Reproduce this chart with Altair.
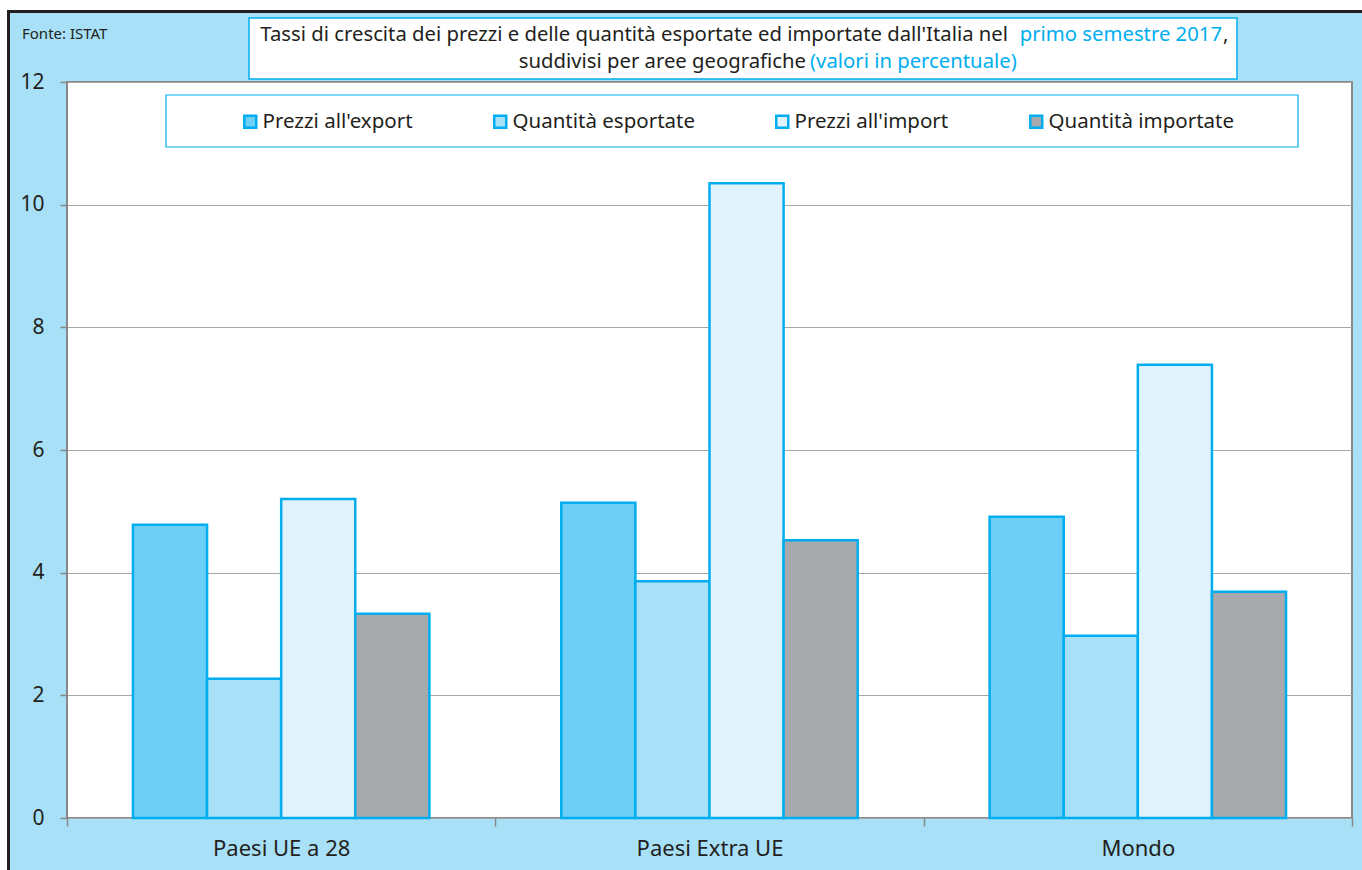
import altair as alt
import pandas as pd

categories = ["Paesi UE a 28", "Paesi Extra UE", "Mondo"]
series = ["Prezzi all'export", "Quantità esportate", "Prezzi all'import", "Quantità importate"]
prezzi_export = [4.78, 5.14, 4.91]
quantita_esportate = [2.27, 3.86, 2.97]
prezzi_import = [5.20, 10.35, 7.39]
quantita_importate = [3.33, 4.53, 3.69]
colors = ["#6dcff6", "#a8e0f8", "#e0f3fc", "#a7a9ac"]
y_ticks = [0, 2, 4, 6, 8, 10, 12]

CYAN = "#00aeef"
BG = "#a8e0f8"
TXT = "#231f20"
FONT = "Noto Sans"
TFS = 20.3

rows = []
for s, vals in zip(series, [prezzi_export, quantita_esportate, prezzi_import, quantita_importate]):
    for c, v in zip(categories, vals):
        rows.append({"area": c, "serie": s, "valore": v})
df = pd.DataFrame(rows)

W, H = 1285, 736
OX, OY = 67, 82  # plot origin in page pixels


def px(x):
    return alt.value(x - OX)


def py(y):
    return alt.value(y - OY)


one = alt.Data(values=[{"k": 1}])

# page frame: white strips + black border (outside plot)
white_top = alt.Chart(one).mark_rect(fill="white").encode(
    x=px(0), x2=px(1362), y=py(0), y2=py(10))
white_left = alt.Chart(one).mark_rect(fill="white").encode(
    x=px(0), x2=px(7), y=py(0), y2=py(870))
black_top = alt.Chart(one).mark_rect(fill="#231f20").encode(
    x=px(7), x2=px(1362), y=py(10), y2=py(13))
black_left = alt.Chart(one).mark_rect(fill="#231f20").encode(
    x=px(7), x2=px(10), y=py(10), y2=py(870))

# title box
title_box = alt.Chart(one).mark_rect(fill="white", stroke=CYAN, strokeWidth=1.5).encode(
    x=px(249), x2=px(1237), y=py(18), y2=py(79))
t1a = alt.Chart(one).mark_text(text="Tassi di crescita dei prezzi e delle quantità esportate ed importate dall'Italia nel",
                               align="right", baseline="middle", font=FONT, fontSize=TFS, color=TXT).encode(
    x=px(1008), y=py(35))
t1b = alt.Chart(one).mark_text(text="primo semestre 2017", align="right", baseline="middle",
                               font=FONT, fontSize=TFS, color=CYAN).encode(x=px(1222), y=py(35))
t1c = alt.Chart(one).mark_text(text=",", align="left", baseline="middle",
                               font=FONT, fontSize=TFS, color=TXT).encode(x=px(1223), y=py(35))
t2a = alt.Chart(one).mark_text(text="suddivisi per aree geografiche", align="right", baseline="middle",
                               font=FONT, fontSize=TFS, color=TXT).encode(x=px(806), y=py(62))
t2b = alt.Chart(one).mark_text(text="(valori in percentuale)", align="left", baseline="middle",
                               font=FONT, fontSize=TFS, color=CYAN).encode(x=px(810), y=py(62))
fonte = alt.Chart(one).mark_text(text="Fonte: ISTAT", align="left", baseline="middle",
                                 font=FONT, fontSize=15, color=TXT).encode(x=px(22), y=py(34))

# legend box
legend_box = alt.Chart(one).mark_rect(fill="white", stroke=CYAN, strokeWidth=1.2).encode(
    x=px(166), x2=px(1298), y=py(95), y2=py(147))

bars = alt.Chart(df).mark_bar(stroke=CYAN, strokeWidth=2.5, strokeJoin="miter").encode(
    x=alt.X("area:N", sort=categories, title=None,
            scale=alt.Scale(paddingInner=0, paddingOuter=0),
            axis=alt.Axis(labelAngle=0, tickBand="extent", labelFontSize=22, labelFont=FONT,
                          labelColor=TXT, labelPadding=12, tickSize=8, tickColor="#888888",
                          tickWidth=1.5, domain=False, grid=False)),
    xOffset=alt.XOffset("serie:N", sort=series,
                        scale=alt.Scale(paddingInner=0, paddingOuter=0.89)),
    y=alt.Y("valore:Q", title=None,
            scale=alt.Scale(domain=[0, 12], nice=False),
            axis=alt.Axis(values=y_ticks, labelFontSize=21, labelFont=FONT, labelColor=TXT,
                          labelPadding=16, tickSize=7, tickColor="#888888", tickWidth=1.5,
                          domain=False, grid=True, gridColor="#a6a6a6", gridWidth=1)),
    fill=alt.Fill("serie:N", sort=series,
                  scale=alt.Scale(domain=series, range=colors),
                  legend=alt.Legend(title=None, orient="none", legendX=173, legendY=29,
                                    direction="horizontal", columns=4, symbolType="square",
                                    symbolSize=144, symbolStrokeColor=CYAN, symbolStrokeWidth=2.5,
                                    labelFontSize=20.5, labelFont=FONT, labelColor=TXT,
                                    labelLimit=0, columnPadding=76, labelOffset=2)),
)

chart = alt.layer(
    white_top, white_left, black_top, black_left,
    title_box, t1a, t1b, t1c, t2a, t2b, fonte,
    legend_box, bars,
).properties(
    width=W, height=H,
    autosize=alt.AutoSizeParams(type="none"),
    padding={"left": OX, "top": OY, "right": 1362 - OX - W, "bottom": 870 - OY - H},
    background=BG,
).configure_view(
    fill="white", stroke="#888888", strokeWidth=2
)

chart.save("out.html", embed_options={"renderer": "svg", "actions": False})
